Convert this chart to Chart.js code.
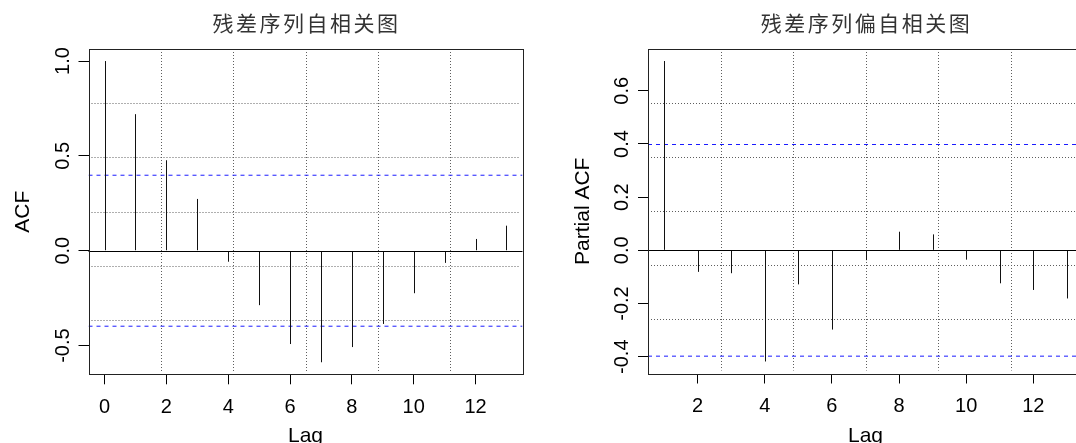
<!DOCTYPE html>
<html><head><meta charset="utf-8">
<script src="https://cdn.jsdelivr.net/npm/chart.js@4.4.1/dist/chart.umd.min.js"></script>
<style>
html,body{margin:0;padding:0;background:#fff;overflow:hidden;width:1076px;height:443px;position:relative;}
#wrapL{position:absolute;left:0;top:0;width:538px;height:443px;}
#wrapR{position:absolute;left:538px;top:0;width:560px;height:443px;}
canvas{display:block;}
</style></head><body>
<div id="wrapL"><canvas id="acf" width="538" height="443"></canvas></div>
<div id="wrapR"><canvas id="pacf" width="560" height="443"></canvas></div>
<script>
// ---- data ----
const acfLags = [0, 1, 2, 3, 4, 5, 6, 7, 8, 9, 10, 11, 12, 13];
const acfValues = [1.0, 0.72, 0.477, 0.273, -0.058, -0.287, -0.492, -0.588, -0.508, -0.386, -0.224, -0.064, 0.062, 0.132];
const pacfLags = [1, 2, 3, 4, 5, 6, 7, 8, 9, 10, 11, 12, 13];
const pacfValues = [0.712, -0.081, -0.086, -0.418, -0.128, -0.298, -0.037, 0.070, 0.060, -0.035, -0.124, -0.149, -0.181];
const confLimit = 0.398;
const acfXTicks = [0, 2, 4, 6, 8, 10, 12];
const acfYTicks = [-0.5, 0.0, 0.5, 1.0];
const pacfXTicks = [2, 4, 6, 8, 10, 12];
const pacfYTicks = [-0.4, -0.2, 0.0, 0.2, 0.4, 0.6];
const acfTitle = "残差序列自相关图";
const pacfTitle = "残差序列偏自相关图";
const acfYLabel = "ACF";
const pacfYLabel = "Partial ACF";
const xLabel = "Lag";

const FONT = "'Liberation Sans', Arial, Helvetica, sans-serif";
const CJK = "'Noto Sans CJK SC', 'Noto Sans CJK JP', sans-serif";

function extRange(arr) {
  const mn = Math.min(...arr), mx = Math.max(...arr);
  const d = (mx - mn) * 0.04;
  return [mn - d, mx + d];
}

function makeChart(id, o) {
  const [xmin, xmax] = extRange(o.lags);
  const [ymin, ymax] = extRange(o.values.concat([confLimit, -confLimit]));
  const deco = {
    id: 'deco' + id,
    beforeDatasetsDraw(chart) {
      const ctx = chart.ctx, a = chart.chartArea;
      const xs = chart.scales.x, ys = chart.scales.y;
      ctx.save();
      ctx.strokeStyle = '#5e5e5e';
      ctx.lineWidth = 1;
      ctx.setLineDash([1, 2]);
      for (let k = 1; k <= 5; k++) {
        const vx = xmin + k * (xmax - xmin) / 6;
        const px = Math.round(xs.getPixelForValue(vx)) + 0.5;
        ctx.beginPath(); ctx.moveTo(px, a.top + 3); ctx.lineTo(px, a.bottom - 3); ctx.stroke();
        const vy = ymin + k * (ymax - ymin) / 6;
        const py = Math.round(ys.getPixelForValue(vy)) + 0.5;
        ctx.beginPath(); ctx.moveTo(a.left + 3, py); ctx.lineTo(a.right - 3, py); ctx.stroke();
      }
      ctx.restore();
    },
    afterDatasetsDraw(chart) {
      const ctx = chart.ctx, a = chart.chartArea;
      const ys = chart.scales.y;
      ctx.save();
      // stems: crisp 1px lines at the positions the bar elements computed
      ctx.strokeStyle = '#111'; ctx.lineWidth = 1; ctx.setLineDash([]);
      chart.getDatasetMeta(0).data.forEach(el => {
        const px = Math.round(el.x) + 0.5;
        ctx.beginPath(); ctx.moveTo(px, el.base); ctx.lineTo(px, el.y); ctx.stroke();
      });
      // zero line
      ctx.strokeStyle = '#000';
      const z = Math.round(ys.getPixelForValue(0)) + 0.5;
      ctx.beginPath(); ctx.moveTo(a.left, z); ctx.lineTo(a.right, z); ctx.stroke();
      // box
      ctx.strokeStyle = '#222';
      ctx.strokeRect(Math.round(a.left) + 0.5, Math.round(a.top) + 0.5, Math.round(a.right - a.left), Math.round(a.bottom - a.top));
      // y tick labels (rotated, parallel to axis)
      ctx.fillStyle = '#000';
      ctx.font = '20px ' + FONT;
      ctx.textAlign = 'center';
      ctx.textBaseline = 'alphabetic';
      o.yTicks.forEach(v => {
        const py = ys.getPixelForValue(v);
        ctx.save();
        ctx.translate(o.yTickX + 7.2, py);
        ctx.rotate(-Math.PI / 2);
        ctx.fillText(v.toFixed(1), 0, 0);
        ctx.restore();
      });
      // y axis title
      ctx.save();
      ctx.translate(o.yTitleX + 7.5, (a.top + a.bottom) / 2);
      ctx.rotate(-Math.PI / 2);
      ctx.font = '21px ' + FONT;
      ctx.fillText(o.yLabel, 0, 0);
      ctx.restore();
      // x axis title
      ctx.font = '21px ' + FONT;
      ctx.fillText(xLabel, (a.left + a.right) / 2, 442);
      // main title
      ctx.font = '21px ' + CJK;
      ctx.fillStyle = '#333';
      try { ctx.letterSpacing = '2.5px'; } catch (e) {}
      ctx.textBaseline = 'middle';
      ctx.fillText(o.title, (a.left + a.right) / 2 + 1, 23);
      ctx.restore();
    }
  };
  return new Chart(document.getElementById(id), {
    type: 'bar',
    data: {
      datasets: [
        { type: 'bar', data: o.lags.map((l, i) => ({ x: l, y: o.values[i] })),
          backgroundColor: 'rgba(0,0,0,0)', borderWidth: 0, barThickness: 1, order: 2 },
        { type: 'line', data: [{ x: xmin, y: confLimit }, { x: xmax, y: confLimit }],
          borderColor: '#1a1aff', borderWidth: 1, borderDash: [4, 4], pointRadius: 0, order: 1 },
        { type: 'line', data: [{ x: xmin, y: -confLimit }, { x: xmax, y: -confLimit }],
          borderColor: '#1a1aff', borderWidth: 1, borderDash: [4, 4], pointRadius: 0, order: 1 }
      ]
    },
    options: {
      responsive: false, animation: false, devicePixelRatio: 1,
      layout: { padding: { left: 0, top: 49, right: o.rightPad, bottom: 0 } },
      plugins: { legend: { display: false }, tooltip: { enabled: false }, title: { display: false } },
      scales: {
        x: {
          type: 'linear', min: xmin, max: xmax, offset: false,
          afterBuildTicks: s => { s.ticks = o.xTicks.map(v => ({ value: v })); },
          afterFit: s => { s.height = o.xAxisHeight; },
          grid: { display: true, offset: false, drawOnChartArea: false, drawTicks: true, tickLength: 10, color: '#000', lineWidth: 1 },
          border: { display: false },
          ticks: { font: { family: FONT, size: 20 }, color: '#000', padding: 11, maxRotation: 0, autoSkip: false,
                   callback: v => String(v) }
        },
        y: {
          type: 'linear', min: ymin, max: ymax,
          afterBuildTicks: s => { s.ticks = o.yTicks.map(v => ({ value: v })); },
          afterFit: s => { s.width = o.yAxisWidth; },
          grid: { display: true, offset: false, drawOnChartArea: false, drawTicks: true, tickLength: 10, color: '#000', lineWidth: 1 },
          border: { display: false },
          ticks: { display: false }
        }
      }
    },
    plugins: [deco]
  });
}

makeChart('acf', { lags: acfLags, values: acfValues, xTicks: acfXTicks, yTicks: acfYTicks,
  title: acfTitle, yLabel: acfYLabel, yAxisWidth: 88.5, rightPad: 15.5, xAxisHeight: 68.7,
  yTickX: 61.7, yTitleX: 21.7 });
makeChart('pacf', { lags: pacfLags, values: pacfValues, xTicks: pacfXTicks, yTicks: pacfYTicks,
  title: pacfTitle, yLabel: pacfYLabel, yAxisWidth: 110, rightPad: 15, xAxisHeight: 69.5,
  yTickX: 82.5, yTitleX: 43.7 });
</script>
</body></html>
